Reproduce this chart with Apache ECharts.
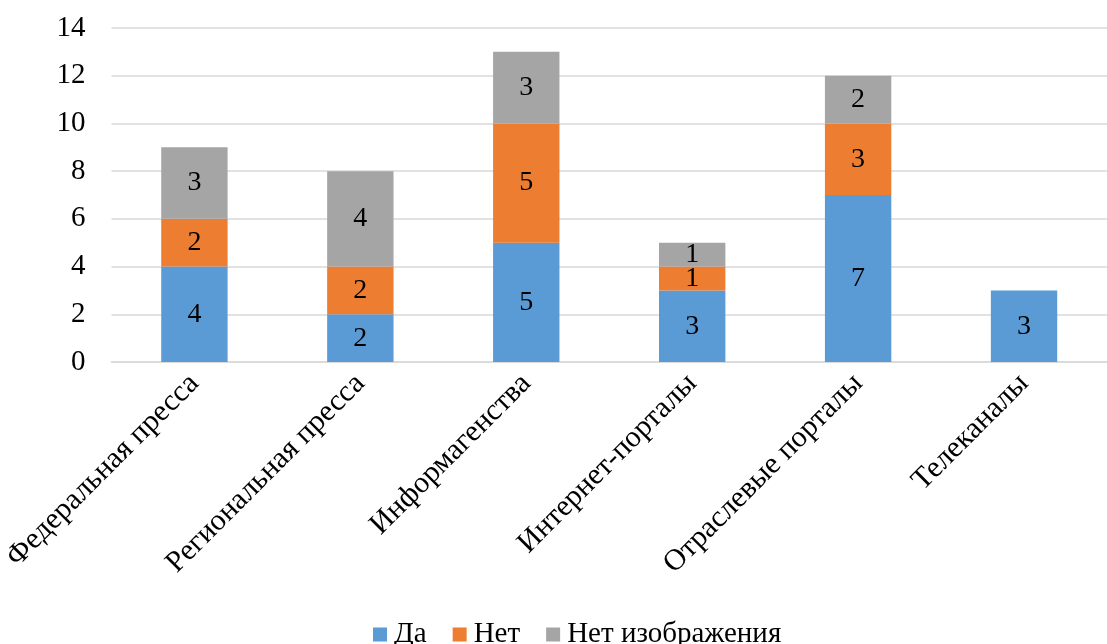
<!DOCTYPE html>
<html>
<head>
<meta charset="utf-8">
<script src="https://cdn.jsdelivr.net/npm/echarts@6/dist/echarts.min.js"></script>
<style>
  html, body { margin: 0; padding: 0; background: #fff; }
  #chart { width: 1107px; height: 644px; }
</style>
</head>
<body>
<div id="chart"></div>
<script>
const categories = ['Федеральная пресса', 'Региональная пресса', 'Информагенства', 'Интернет-порталы', 'Отраслевые порталы', 'Телеканалы'];
const yesValues = [4, 2, 5, 3, 7, 3];
const noValues = [2, 2, 5, 1, 3, null];
const noImageValues = [3, 4, 3, 1, 2, null];
const seriesNames = ['Да', 'Нет', 'Нет изображения'];
const seriesColors = ['#5B9BD5', '#ED7D31', '#A5A5A5'];

const font = '"Liberation Serif", "Times New Roman", serif';

const chart = echarts.init(document.getElementById('chart'));

function makeSeries(name, data, color) {
  return {
    name: name,
    type: 'bar',
    stack: 'total',
    data: data,
    barWidth: '40%',
    itemStyle: { color: color },
    label: {
      show: true,
      position: 'inside',
      color: '#000',
      fontFamily: font,
      fontSize: 28
    },
    emphasis: { disabled: true }
  };
}

chart.setOption({
  animation: false,
  textStyle: { fontFamily: font },
  grid: { left: 109, right: -11, top: 28, bottom: 282, containLabel: false },
  legend: {
    top: 615,
    left: 368,
    itemWidth: 14,
    itemHeight: 14,
    itemGap: 26,
    icon: 'rect',
    textStyle: { fontFamily: font, fontSize: 29, color: '#000', padding: [0, 0, 0, 2] },
    data: seriesNames
  },
  xAxis: {
    type: 'category',
    data: categories,
    axisLine: { show: true, lineStyle: { color: '#d9d9d9', width: 1.5 } },
    axisTick: { show: false },
    axisLabel: {
      rotate: 45,
      interval: 0,
      margin: 17,
      color: '#000',
      fontFamily: font,
      fontSize: 30
    }
  },
  yAxis: {
    type: 'value',
    min: 0,
    max: 14,
    interval: 2,
    axisLine: { show: false },
    axisTick: { show: false },
    splitLine: { lineStyle: { color: '#d9d9d9', width: 1.5 } },
    axisLabel: {
      margin: 26,
      color: '#000',
      fontFamily: font,
      fontSize: 29
    }
  },
  series: [
    makeSeries(seriesNames[0], yesValues, seriesColors[0]),
    makeSeries(seriesNames[1], noValues, seriesColors[1]),
    makeSeries(seriesNames[2], noImageValues, seriesColors[2])
  ]
});
</script>
</body>
</html>
